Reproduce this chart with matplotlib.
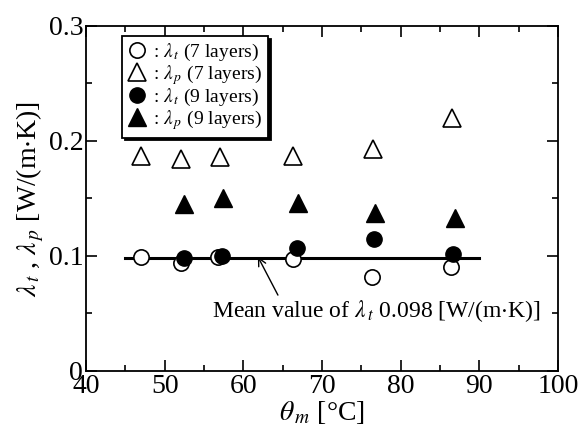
import matplotlib
matplotlib.use("Agg")
import matplotlib.pyplot as plt
from matplotlib.ticker import MultipleLocator

plt.rcParams['font.family'] = ['Liberation Serif', 'DejaVu Serif']
plt.rcParams['mathtext.fontset'] = 'stix'

# lambda_t, 7 layers (open circles)
t7_x = [47.0, 52.1, 56.8, 66.3, 76.3, 86.4]
t7_y = [0.099, 0.094, 0.099, 0.097, 0.082, 0.090]
# lambda_p, 7 layers (open triangles)
p7_x = [47.0, 52.1, 57.0, 66.3, 76.5, 86.5]
p7_y = [0.187, 0.184, 0.186, 0.187, 0.193, 0.220]
# lambda_t, 9 layers (filled circles)
t9_x = [52.4, 57.3, 66.8, 76.6, 86.7]
t9_y = [0.098, 0.100, 0.107, 0.115, 0.102]
# lambda_p, 9 layers (filled triangles)
p9_x = [52.4, 57.4, 66.9, 76.7, 86.9]
p9_y = [0.145, 0.150, 0.146, 0.137, 0.133]

mean_x = [45, 90]
mean_val = 0.098

fig = plt.figure(figsize=(5.79, 4.29), dpi=100)
ax = fig.add_axes([0.1485, 0.1352, 0.8152, 0.8042])

ax.plot(mean_x, [mean_val, mean_val], color='black', lw=2.2, zorder=1)

ax.plot(t7_x, t7_y, 'o', ms=11, mfc='white', mec='black', mew=1.2,
        label=r': $\lambda_{\,t}$ (7 layers)', zorder=2)
ax.plot(p7_x, p7_y, '^', ms=12.5, mfc='white', mec='black', mew=1.2,
        label=r': $\lambda_{\,p}$ (7 layers)', zorder=2)
ax.plot(t9_x, t9_y, 'o', ms=11, mfc='black', mec='black',
        label=r': $\lambda_{\,t}$ (9 layers)', zorder=3)
ax.plot(p9_x, p9_y, '^', ms=12.5, mfc='black', mec='black',
        label=r': $\lambda_{\,p}$ (9 layers)', zorder=3)

# arrow pointing at the mean line, text below
ax.annotate('', xy=(61.85, 0.0994), xytext=(64.4, 0.066),
            arrowprops=dict(arrowstyle='->', color='black', lw=1,
                            shrinkA=0, shrinkB=0, mutation_scale=14))
ax.text(56.0, 0.052, r'Mean value of $\lambda_{\,t}$ 0.098 [W/(m$\cdot$K)]',
        fontsize=17, va='center', ha='left')

ax.set_xlim(40, 100)
ax.set_ylim(0, 0.3)
ax.xaxis.set_major_locator(MultipleLocator(10))
ax.xaxis.set_minor_locator(MultipleLocator(5))
ax.yaxis.set_minor_locator(MultipleLocator(0.05))
ax.set_yticks([0, 0.1, 0.2, 0.3])
ax.set_yticklabels(['0', '0.1', '0.2', '0.3'])

ax.tick_params(which='both', direction='in', top=True, right=True,
               labelsize=20, width=1.2, pad=2)
ax.tick_params(which='major', length=8)
ax.tick_params(which='minor', length=4.5)
for s in ax.spines.values():
    s.set_linewidth(1.3)

ax.set_xlabel(r'$\theta_{\,m}$ [°C]', fontsize=20, labelpad=0)
ax.set_ylabel(r'$\lambda_{\,t}$ , $\lambda_{\,p}$ [W/(m$\cdot$K)]',
              fontsize=20, labelpad=2)

leg = ax.legend(loc='upper left', bbox_to_anchor=(0.076, 0.971),
                borderaxespad=0, fontsize=14, frameon=True, fancybox=False,
                shadow={'color': 'black', 'alpha': 1}, handlelength=1.0,
                handletextpad=0.3, labelspacing=0.0, borderpad=0.3,
                numpoints=1)
leg.get_frame().set_edgecolor('black')
leg.get_frame().set_linewidth(1.3)

fig.savefig('out.png', dpi=100)
